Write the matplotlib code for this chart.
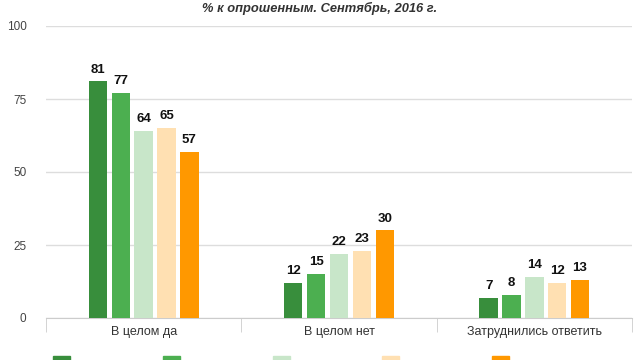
import numpy as np
import matplotlib.pyplot as plt
from matplotlib.patches import Patch

plt.rcParams['font.family'] = ['Liberation Sans', 'DejaVu Sans']

categories = ["В целом да", "В целом нет", "Затруднились ответить"]
values = [
    [81, 12, 7],
    [77, 15, 8],
    [64, 22, 14],
    [65, 23, 12],
    [57, 30, 13],
]
colors = ["#388e3c", "#4caf50", "#c8e6c9", "#ffe0b2", "#ff9800"]

fig = plt.figure(figsize=(6.4, 3.6), dpi=100)
ax = fig.add_axes([46 / 640, 1 - 318 / 360, 586 / 640, 292 / 360])

x = np.arange(len(categories))
step = 0.117
width = 0.094
for i, (vals, c) in enumerate(zip(values, colors)):
    pos = x + (i - 2) * step
    ax.bar(pos, vals, width=width, color=c, zorder=3)
    for p, v in zip(pos, vals):
        ax.text(p, v + 2, str(v), ha='center', va='bottom',
                fontsize=9.5, fontweight='bold', color='#111111')

ax.set_xlim(-0.5, 2.5)
ax.set_ylim(0, 100)
ax.set_yticks([0, 25, 50, 75, 100])
ax.yaxis.grid(True, color='#dddddd', linewidth=1, zorder=0)
ax.tick_params(axis='y', length=0, labelsize=8.5, labelcolor='#444444', pad=14)
for s in ['top', 'right', 'left']:
    ax.spines[s].set_visible(False)
ax.spines['bottom'].set_color('#cccccc')

ax.set_xticks(x)
ax.set_xticklabels(categories, fontsize=9, color='#333333')
ax.tick_params(axis='x', length=0, pad=6)
ax.set_xticks([-0.5, 0.5, 1.5, 2.5], minor=True)
ax.tick_params(axis='x', which='minor', length=10, color='#cccccc')

fig.text(0.5, 1 - 2 / 360, "% к опрошенным. Сентябрь, 2016 г.", ha='center', va='top',
         fontsize=9.3, fontweight='bold', fontstyle='italic', color='#333333')

# legend: only the top of the swatches is visible in the frame
handles = [Patch(color=c) for c in colors]
fig.legend(handles, [""] * 5, loc='upper left', bbox_to_anchor=(53 / 640, 1 - 356 / 360),
           ncol=5, frameon=False, borderpad=0, borderaxespad=0,
           handlelength=1.36, handleheight=1.2, handletextpad=0,
           columnspacing=7.42, fontsize=9)

fig.savefig("out.png", dpi=100)
